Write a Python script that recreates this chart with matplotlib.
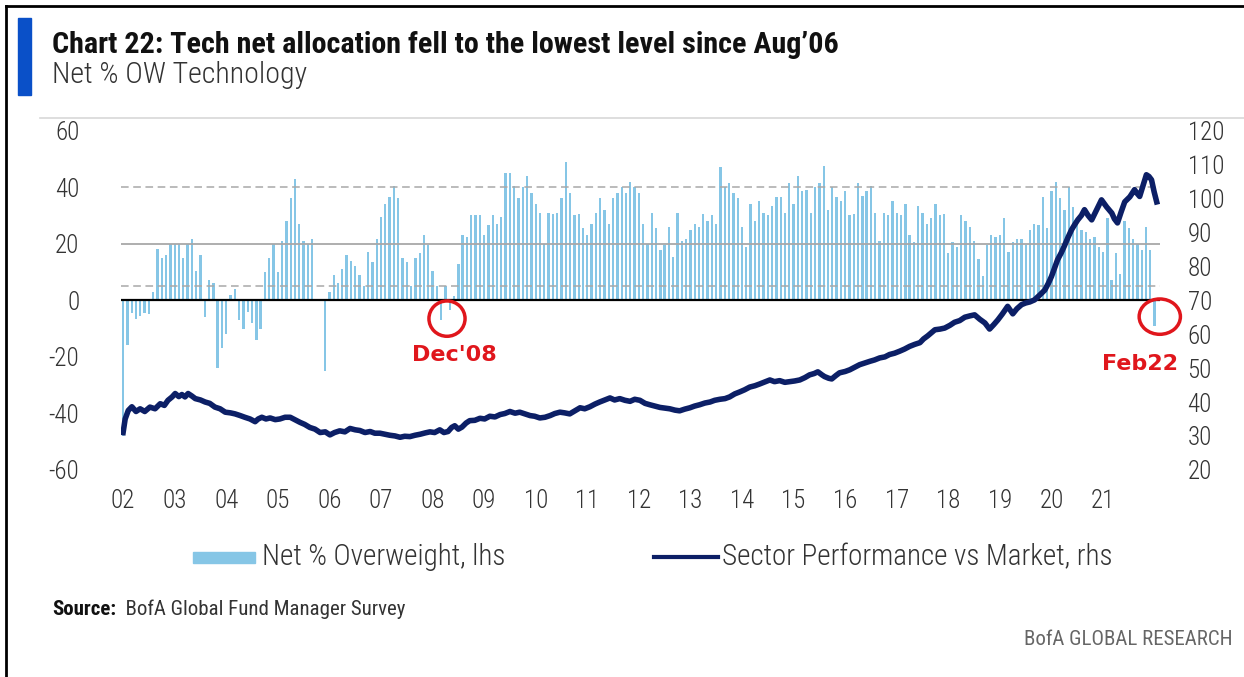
import matplotlib.pyplot as plt
import numpy as np
from matplotlib.patches import Ellipse, Rectangle
from matplotlib.lines import Line2D

plt.rcParams['font.family'] = ['Roboto Condensed', 'Liberation Sans Narrow', 'DejaVu Sans Condensed',
                               'Lato', 'DejaVu Sans']
plt.rcParams['axes.unicode_minus'] = False

# Net % overweight tech, monthly from Jan 2002 (lhs)
net_ow_02_05 = [-48, -16, -4.5, -6.5, -5.5, -4.5, -5, 3, 18, 15, 16, 20,
                20, 20, 15, 20, 21.5, 10.5, 16, -6, 7, 6, -24, -17,
                -12, 2, 4, -7, -10, -4, -8, -14, -10, 10, 15, 20,
                10, 21, 28, 36, 43, 27, 21, 20, 21.5, 0.5, 0, -25]
net_ow_06_09 = [3, 9, 6, 11, 16, 14, 12, 9, 5, 17, 13.5, 21.5,
                29.5, 34, 36.5, 40.5, 36, 15, 13.5, 5, 15, 16.6, 23, 19.6,
                10.5, 5, -7, 5, -3.4, 1.4, 13, 23, 22.5, 30, 30, 30,
                23, 26.6, 30, 27, 29.5, 45, 45, 40.5, 36, 40, 44, 38, 34]
net_ow_10_13 = [31, 20, 31, 30.5, 31, 36, 49, 38, 30, 30.5, 25.5, 23,
                27, 31, 36, 32, 27, 36, 38, 40, 38, 42, 40, 38,
                27, 20, 31, 25.5, 17.8, 19.6, 26, 15.4, 31, 21, 21.5, 25,
                27, 26, 30.5, 28, 30, 27, 47, 40, 41.5, 38, 36, 26, 19]
net_ow_14_17 = [34, 28, 35, 31, 30, 33.5, 36.5, 36.5, 31, 41.5, 34, 44,
                38.5, 39, 31, 40, 41.5, 47.5, 32, 40, 36.5, 35, 38.5, 30,
                30.5, 41.5, 37, 38.5, 40.5, 31, 21, 31, 30, 35, 31, 30,
                34, 23, 20.5, 33.5, 31, 27, 29, 34, 30, 30.5, 16.6, 20.5]
net_ow_18_22 = [19, 30, 28, 26, 20.8, 14.7, 8.7, 19.6, 23, 22.5, 23, 29,
                17, 20.5, 21.5, 21.5, 19.6, 25, 27, 26.5, 36.5, 25.5, 38.5, 42,
                36, 32, 40, 33, 29, 25, 24, 21.5, 22.5, 19, 17, 29,
                7, 16.6, 9.3, 28, 25.5, 21.5, 20, 17.8, 26, 17.8, -9]
net_ow = net_ow_02_05 + net_ow_06_09 + net_ow_10_13 + net_ow_14_17 + net_ow_18_22

# Sector performance vs market (rhs)
perf_years = [2002.00, 2002.04, 2002.10, 2002.17, 2002.25, 2002.33, 2002.42, 2002.52, 2002.62, 2002.72,
              2002.80, 2002.87, 2002.95, 2003.01, 2003.08, 2003.14, 2003.20, 2003.26, 2003.33, 2003.40,
              2003.50, 2003.59, 2003.68, 2003.78, 2003.88, 2003.98, 2004.08, 2004.17, 2004.27, 2004.36,
              2004.46, 2004.56, 2004.62, 2004.69, 2004.77, 2004.85, 2004.95, 2005.04, 2005.14, 2005.24,
              2005.33, 2005.43, 2005.52, 2005.62, 2005.72, 2005.82, 2005.92, 2006.01, 2006.10, 2006.20,
              2006.30, 2006.40, 2006.50, 2006.59, 2006.69, 2006.79, 2006.88, 2006.98, 2007.08, 2007.17,
              2007.27, 2007.37, 2007.46, 2007.56, 2007.66, 2007.76, 2007.86, 2007.95, 2008.04, 2008.14,
              2008.22, 2008.30, 2008.37, 2008.43, 2008.50, 2008.57, 2008.65, 2008.72, 2008.82, 2008.92,
              2009.01, 2009.11, 2009.21, 2009.31, 2009.40, 2009.50, 2009.60, 2009.69, 2009.79, 2009.89,
              2009.98, 2010.08, 2010.18, 2010.28, 2010.37, 2010.47, 2010.56, 2010.66, 2010.76, 2010.86,
              2010.95, 2011.05, 2011.15, 2011.24, 2011.34, 2011.44, 2011.53, 2011.63, 2011.73, 2011.83,
              2011.92, 2012.02, 2012.12, 2012.21, 2012.31, 2012.41, 2012.50, 2012.60, 2012.70, 2012.79,
              2012.89, 2012.99, 2013.08, 2013.18, 2013.28, 2013.38, 2013.47, 2013.57, 2013.67, 2013.76,
              2013.86, 2013.96, 2014.05, 2014.15, 2014.25, 2014.34, 2014.44, 2014.54, 2014.63, 2014.73,
              2014.83, 2014.93, 2015.02, 2015.12, 2015.22, 2015.31, 2015.40, 2015.47, 2015.55, 2015.60,
              2015.68, 2015.74, 2015.82, 2015.89, 2016.00, 2016.09, 2016.18, 2016.28, 2016.38, 2016.48,
              2016.57, 2016.67, 2016.77, 2016.86, 2016.96, 2017.06, 2017.15, 2017.25, 2017.35, 2017.45,
              2017.52, 2017.60, 2017.67, 2017.74, 2017.84, 2017.93, 2018.03, 2018.12, 2018.22, 2018.32,
              2018.42, 2018.51, 2018.61, 2018.71, 2018.80, 2018.88, 2018.96, 2019.05, 2019.15, 2019.25,
              2019.33, 2019.42, 2019.50, 2019.58, 2019.67, 2019.77, 2019.87, 2019.94, 2020.00, 2020.06,
              2020.12, 2020.19, 2020.25, 2020.32, 2020.39, 2020.45, 2020.51, 2020.58, 2020.64, 2020.71,
              2020.78, 2020.87, 2020.97, 2021.07, 2021.17, 2021.22, 2021.28, 2021.35, 2021.42, 2021.52,
              2021.61, 2021.66, 2021.71, 2021.78, 2021.84, 2021.89, 2021.94, 2021.99, 2022.04]
perf = [31, 35, 37.5, 38.6, 37.2, 38.0, 37.2, 38.5, 38.0, 39.5,
        39.0, 40.5, 41.5, 42.5, 41.6, 42.2, 41.5, 42.5, 41.8, 41,
        40.6, 40, 39.6, 38.5, 38.0, 37, 36.8, 36.5, 36.0, 35.5,
        35.0, 34.2, 35.0, 35.5, 35.0, 35.3, 34.8, 35, 35.5, 35.5,
        34.8, 34, 33.4, 32.5, 32.0, 31, 31.2, 30.3, 31.0, 31.5,
        31.2, 32.2, 31.8, 31.6, 31.0, 31.3, 30.8, 30.8, 30.5, 30.2,
        30.0, 29.6, 29.9, 29.8, 30.2, 30.5, 30.9, 31.2, 31.0, 31.8,
        31.0, 31.3, 32.5, 33, 32.0, 32.6, 33.8, 34.5, 34.6, 35.2,
        35.0, 35.8, 35.6, 36.3, 36.6, 37.2, 36.7, 37, 36.5, 36,
        35.8, 35.3, 35.5, 36, 36.6, 37, 36.8, 36.5, 37.4, 38.3,
        38.0, 38.6, 39.4, 40, 40.6, 41.2, 40.6, 41, 40.5, 40.2,
        40.8, 40.5, 39.6, 39.2, 38.8, 38.4, 38.2, 38, 37.6, 37.4,
        37.9, 38.3, 38.8, 39.2, 39.7, 40, 40.5, 40.8, 41.0, 41.5,
        42.4, 43, 43.6, 44.4, 44.8, 45.3, 45.9, 46.5, 46.0, 46.3,
        45.8, 46, 46.2, 46.5, 47.2, 48, 48.4, 48.9, 48.0, 47.5,
        47.0, 46.8, 47.8, 48.6, 49.0, 49.5, 50.2, 51, 51.5, 52,
        52.4, 53, 53.3, 54, 54.4, 55, 55.6, 56.4, 57.0, 57.5,
        58.6, 59.5, 60.4, 61.3, 61.5, 61.8, 62.6, 63.5, 64.0, 65,
        65.4, 65.7, 64.4, 63.3, 61.5, 62.8, 64.2, 66.0, 68.2, 66,
        67.5, 68.7, 69.2, 69.5, 70.1, 71.5, 73, 75, 77, 79.5,
        82, 84, 86, 88.5, 90.8, 92.3, 93.7, 95.0, 96.7, 95.0,
        93.7, 96.5, 99.6, 97.5, 95.7, 94.0, 92.8, 96.0, 99, 100.5,
        102.6, 101.5, 100.6, 104.0, 107, 106.5, 105.5, 102.0, 99]

year_ticks = list(range(2002, 2022))
year_labels = ['%02d' % (y % 100) for y in year_ticks]

bar_color = '#86c6e6'
line_color = '#0c1f66'
red = '#e0161c'
grid_grey = '#a8a8a8'

fig = plt.figure(figsize=(12.44, 6.77), dpi=100)

ax = fig.add_axes([0.0973, 0.306, 0.835, 0.501])
x = 2002 + np.arange(len(net_ow)) / 12
ax.bar(x, net_ow, width=0.045, color=bar_color, zorder=2)
ax.axhline(40, color=grid_grey, lw=1.1, ls=(0, (5, 3)), zorder=3)
ax.axhline(5, color=grid_grey, lw=1.1, ls=(0, (5, 3)), zorder=3)
ax.axhline(20, color=grid_grey, lw=1.3, zorder=3)
ax.axhline(0, color='black', lw=1.6, zorder=4)
ax.set_xlim(2001.96, 2022.1)
ax.set_ylim(-60, 60)
ax.set_yticks(range(-60, 61, 20))
ax.set_xticks(year_ticks)
ax.set_xticklabels(year_labels)
for s in ax.spines.values():
    s.set_visible(False)
ax.tick_params(axis='both', length=0, labelsize=18, colors='#333333')
ax.tick_params(axis='y', pad=30)
ax.tick_params(axis='x', pad=14)
for lab in ax.get_xticklabels() + ax.get_yticklabels():
    lab.set_fontweight('light')

ax2 = ax.twinx()
ax2.plot(perf_years, perf, color=line_color, lw=4, solid_joinstyle='round', zorder=5)
ax2.set_ylim(20, 120)
ax2.set_yticks(range(20, 121, 10))
for s in ax2.spines.values():
    s.set_visible(False)
ax2.tick_params(axis='y', length=0, labelsize=18, colors='#333333', pad=20)
for lab in ax2.get_yticklabels():
    lab.set_fontweight('light')

# red circles and labels
ax.add_patch(Ellipse((2008.28, -6.5), 0.7, 12.5, fill=False, ec=red, lw=2.5, zorder=6, clip_on=False))
ax.text(2008.43, -19.5, "Dec'08", color=red, fontsize=16, fontweight='bold',
        family='DejaVu Sans', ha='center', va='center')
ax.add_patch(Ellipse((2022.1, -5.8), 0.8, 12.5, fill=False, ec=red, lw=2.5, zorder=6, clip_on=False))
ax.text(2021.72, -22.5, 'Feb22', color=red, fontsize=16, fontweight='bold',
        family='DejaVu Sans', ha='center', va='center')

# header
fig.add_artist(Rectangle((0.0147, 0.86), 0.0102, 0.113, color='#0a50c8', transform=fig.transFigure))
fig.text(0.0418, 0.934, 'Chart 22: Tech net allocation fell to the lowest level since Aug’06',
         fontsize=21.7, fontweight='bold', color='#111111', va='center')
fig.text(0.0418, 0.889, 'Net % OW Technology', fontsize=21.5, fontweight='light', color='#333333',
         va='center')
fig.add_artist(Line2D([0.032, 1.0], [0.8257, 0.8257], color='#d8d8d8', lw=1.2, transform=fig.transFigure))

# frame
fig.add_artist(Line2D([0.0048, 0.0048], [0.0, 0.991], color='black', lw=2, transform=fig.transFigure))
fig.add_artist(Line2D([0.0048, 1.0], [0.991, 0.991], color='black', lw=2, transform=fig.transFigure))

# legend
fig.add_artist(Rectangle((0.155, 0.168), 0.05, 0.016, color=bar_color, transform=fig.transFigure))
fig.text(0.211, 0.177, 'Net % Overweight, lhs', fontsize=21, fontweight='light', color='#333333',
         va='center')
fig.add_artist(Line2D([0.526, 0.577], [0.177, 0.177], color=line_color, lw=3, transform=fig.transFigure))
fig.text(0.580, 0.177, 'Sector Performance vs Market, rhs', fontsize=21, fontweight='light',
         color='#333333', va='center')

# footer
src = fig.text(0.0418, 0.1004, 'Source:', fontsize=15, fontweight='bold', color='#111111', va='center')
ax.annotate('  BofA Global Fund Manager Survey', xy=(1, 0.5), xycoords=src, fontsize=15,
            color='#333333', va='center', ha='left', annotation_clip=False)
fig.text(0.991, 0.0561, 'BofA GLOBAL RESEARCH', fontsize=15, color='#666666', va='center', ha='right')

fig.savefig('out.png', dpi=100)
